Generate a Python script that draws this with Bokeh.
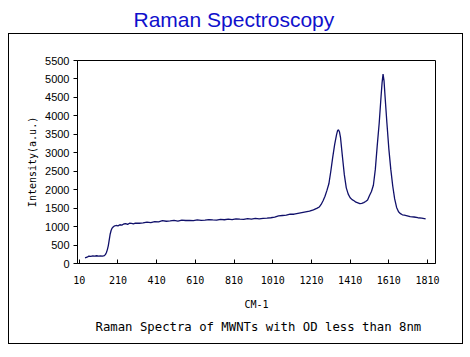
from bokeh.plotting import figure
from bokeh.models import Range1d, FixedTicker, Title, InlineStyleSheet
from bokeh.embed import file_html
from bokeh.resources import INLINE

# ---- data ----
wavenumber = [40, 50, 60, 70, 80, 90, 100, 110, 120, 130, 140, 145, 150, 155, 160, 165, 170, 175,
              180, 185, 190, 200, 210, 220, 230, 240, 250, 260, 270, 280, 290, 300, 320, 340, 360,
              380, 400, 420, 440, 460, 480, 500, 520, 540, 560, 580, 600, 620, 640, 660, 680, 700,
              720, 740, 760, 780, 800, 820, 840, 860, 880, 900, 920, 940, 960, 980, 1000, 1020,
              1040, 1060, 1080, 1100, 1120, 1140, 1160, 1180, 1200, 1220, 1240, 1250, 1260, 1270,
              1280, 1290, 1300, 1310, 1320, 1330, 1340, 1345, 1350, 1355, 1360, 1370, 1380, 1390,
              1400, 1410, 1420, 1430, 1440, 1450, 1460, 1470, 1480, 1490, 1500, 1510, 1520, 1530,
              1540, 1550, 1560, 1570, 1575, 1580, 1585, 1590, 1600, 1610, 1620, 1630, 1640, 1650,
              1660, 1670, 1680, 1690, 1700, 1720, 1740, 1760, 1780, 1800]
intensity = [150, 170, 200, 195, 205, 200, 210, 200, 205, 200, 215, 240, 290, 370, 480, 640, 800, 900,
             960, 990, 1010, 1030, 1020, 1050, 1040, 1070, 1080, 1060, 1090, 1085, 1075, 1095, 1090,
             1100, 1120, 1110, 1135, 1130, 1160, 1145, 1155, 1170, 1150, 1175, 1165, 1170, 1160, 1180,
             1170, 1175, 1190, 1180, 1175, 1195, 1185, 1200, 1190, 1210, 1200, 1195, 1215, 1205, 1220,
             1210, 1225, 1230, 1240, 1255, 1290, 1300, 1310, 1340, 1335, 1360, 1380, 1400, 1420, 1455,
             1500, 1530, 1600, 1700, 1820, 1980, 2160, 2500, 2880, 3230, 3500, 3600, 3620, 3560, 3420,
             2900, 2400, 2050, 1880, 1780, 1730, 1700, 1660, 1640, 1620, 1630, 1650, 1680, 1720, 1840,
             1950, 2120, 2550, 3200, 3800, 4550, 4900, 5130, 4950, 4550, 3800, 3100, 2550, 2100, 1750,
             1520, 1400, 1350, 1320, 1310, 1300, 1270, 1260, 1240, 1230, 1210]
x_ticks = [10, 210, 410, 610, 810, 1010, 1210, 1410, 1610, 1810]
y_ticks = [0, 500, 1000, 1500, 2000, 2500, 3000, 3500, 4000, 4500, 5000, 5500]

chart_title = "Raman Spectroscopy"
x_label = "CM-1"
y_label = "Intensity(a.u.)"
subtitle = "Raman Spectra of MWNTs with OD less than 8nm"

W, H = 470, 352
box_css = InlineStyleSheet(css="""
:host::after {
  content: "";
  position: absolute;
  left: 8px; top: 33px; width: 453px; height: 309px;
  border: 1px solid #000;
  pointer-events: none;
}
""")

p = figure(width=W, height=H, output_backend="svg", toolbar_location=None,
           x_range=Range1d(1, 1851), y_range=Range1d(0, 5500),
           min_border_left=77, min_border_right=35, min_border_top=60, min_border_bottom=H - 263,
           stylesheets=[box_css])
p.background_fill_color = "white"
p.border_fill_color = "white"
p.xgrid.visible = False
p.ygrid.visible = False
p.outline_line_color = "black"
p.outline_line_width = 1
p.outline_line_alpha = 1

p.line(wavenumber, intensity, line_color="#10106a", line_width=1.3)

# blank spacer next to the frame, then the title above it
p.add_layout(Title(text=" ", text_font_size="21px", standoff=0), "above")
p.add_layout(Title(text=chart_title, align="left", offset=56,
                   text_font="Liberation Sans", text_font_size="21px",
                   text_font_style="normal", text_color="#1010cc"), "above")

# x axis
p.xaxis.ticker = FixedTicker(ticks=x_ticks)
p.xaxis.major_tick_in = 4
p.xaxis.major_tick_out = 0
p.xaxis.minor_tick_in = 0
p.xaxis.minor_tick_out = 0
p.xaxis.axis_line_color = "black"
p.xaxis.major_tick_line_color = "black"
p.xaxis.major_label_text_font = "DejaVu Sans Mono"
p.xaxis.major_label_text_font_size = "10px"
p.xaxis.major_label_text_color = "black"
p.xaxis.major_label_standoff = 12
p.xaxis.axis_label = x_label
p.xaxis.axis_label_text_font = "DejaVu Sans Mono"
p.xaxis.axis_label_text_font_size = "10px"
p.xaxis.axis_label_text_font_style = "normal"
p.xaxis.axis_label_text_color = "black"
p.xaxis.axis_label_standoff = 12

# y axis
p.yaxis.ticker = FixedTicker(ticks=y_ticks)
p.yaxis.major_tick_in = 0
p.yaxis.major_tick_out = 4
p.yaxis.minor_tick_in = 0
p.yaxis.minor_tick_out = 0
p.yaxis.axis_line_color = "black"
p.yaxis.major_tick_line_color = "black"
p.yaxis.major_label_text_font = "Liberation Sans"
p.yaxis.major_label_text_font_size = "11px"
p.yaxis.major_label_text_color = "black"
p.yaxis.major_label_standoff = 4
p.yaxis.axis_label = y_label
p.yaxis.axis_label_text_font = "DejaVu Sans Mono"
p.yaxis.axis_label_text_font_size = "10px"
p.yaxis.axis_label_text_font_style = "normal"
p.yaxis.axis_label_text_color = "black"
p.yaxis.axis_label_standoff = 4

# caption below the axis
p.add_layout(Title(text=subtitle, align="left", offset=18, standoff=10,
                   text_font="DejaVu Sans Mono", text_font_size="12.3px",
                   text_font_style="normal", text_color="black"), "below")

open("out.html", "w").write(file_html(p, INLINE))
